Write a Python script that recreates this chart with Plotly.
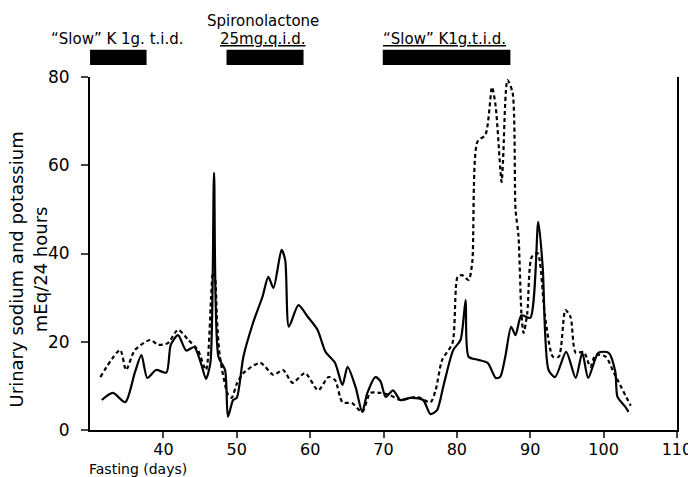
import plotly.graph_objects as go

# Solid line (sodium)
sodium_day = [31.6, 33.1, 34.8, 36.1, 37.0, 37.8, 39.0, 40.4, 41.0, 42.0, 43.1, 44.2, 45.1, 45.8,
              46.4, 46.9, 47.5, 48.4, 48.8, 49.5, 50.0, 50.9, 52.2, 53.5, 54.3, 55.0, 56.1, 56.6,
              57.1, 58.4, 59.7, 61.0, 62.1, 63.4, 64.4, 65.1, 66.2, 67.1, 67.8, 68.9, 69.6, 70.3,
              71.3, 72.3, 73.7, 75.4, 76.4, 77.3, 78.2, 79.5, 80.5, 81.2, 81.6, 82.9, 84.2, 85.3,
              85.9, 86.6, 87.4, 88.0, 88.8, 90.0, 91.1, 91.7, 92.5, 93.4, 94.9, 96.2, 97.1, 97.9,
              99.3, 100.7, 101.6, 101.9, 103.0, 103.4]
sodium_val = [6.8, 8.4, 6.3, 13.0, 17.0, 11.8, 13.6, 13.0, 19.3, 21.5, 18.0, 18.8, 15.2, 11.6,
              15.2, 58.3, 16.6, 13.6, 3.0, 6.8, 7.3, 16.6, 24.2, 30.2, 34.7, 32.2, 40.8, 38.5,
              23.4, 28.3, 25.6, 22.7, 17.7, 15.2, 10.2, 14.3, 9.7, 4.1, 8.4, 12.0, 11.0, 7.5,
              9.0, 6.8, 7.3, 6.8, 3.6, 4.5, 10.2, 18.1, 20.4, 29.5, 16.6, 15.9, 15.2, 11.8,
              12.0, 16.6, 23.4, 21.5, 26.0, 25.4, 47.2, 37.0, 13.6, 12.0, 17.7, 11.8, 17.5, 11.8,
              17.5, 17.5, 13.2, 7.5, 5.2, 4.1]

# Dashed line (potassium)
potassium_day = [31.4, 34.1, 34.9, 36.1, 38.2, 39.3, 40.6, 42.0, 43.4, 44.7, 45.8, 46.5, 46.75,
                 47.0, 47.3, 47.7, 48.8, 49.3, 50.0, 50.9, 53.2, 55.0, 56.3, 57.6, 59.3, 61.1,
                 62.5, 63.4, 64.4, 65.7, 67.1, 68.2, 69.6, 70.9, 72.3, 74.6, 76.4, 77.1, 78.0,
                 79.4, 80.1, 80.7, 81.6, 82.1, 82.8, 83.9, 84.8, 85.3, 86.1, 86.3, 86.9, 87.6,
                 88.0, 88.4, 88.8, 89.1, 89.6, 90.2, 91.0, 92.0, 93.1, 93.9, 94.8, 95.5, 96.2,
                 97.3, 98.2, 98.9, 100.3, 101.4, 103.7]
potassium_val = [12.0, 18.1, 13.6, 18.1, 20.4, 19.3, 19.7, 22.7, 20.4, 18.1, 13.6, 30.0, 35.6,
                 35.0, 25.0, 16.6, 8.0, 7.3, 10.5, 12.9, 15.2, 12.5, 13.6, 10.7, 12.9, 9.0,
                 12.0, 11.3, 6.3, 6.1, 4.1, 8.4, 8.4, 7.9, 6.8, 7.5, 6.3, 9.0, 15.9,
                 19.7, 34.7, 35.1, 34.0, 38.0, 65.3, 66.9, 77.7, 73.2, 56.2, 61.2, 79.3, 76.4,
                 50.0, 44.0, 26.5, 22.0, 26.5, 39.2, 40.1, 26.0, 16.6, 16.6, 27.2, 25.6, 17.5,
                 17.7, 14.3, 17.0, 16.6, 13.0, 5.5]

# Treatment periods (days)
treat_start = [30.0, 48.6, 69.9]
treat_end = [37.7, 59.1, 87.3]
treat_label = ["“Slow” K 1g. t.i.d.", "<u>25mg.q.i.d.</u>", "<u>“Slow” K1g.t.i.d.</u>"]
treat_label_x = [33.7, 53.6, 78.3]
drug_name = "Spironolactone"

x_ticks = [40, 50, 60, 70, 80, 90, 100, 110]
y_ticks = [0, 20, 40, 60, 80]

FONT = "DejaVu Sans"

fig = go.Figure()
fig.add_trace(go.Scatter(x=sodium_day, y=sodium_val, mode="lines",
                         line=dict(color="black", width=2.2, shape="spline", smoothing=0.7),
                         showlegend=False))
fig.add_trace(go.Scatter(x=potassium_day, y=potassium_val, mode="lines",
                         line=dict(color="black", width=2.2, dash="4px,3px", shape="spline", smoothing=0.7),
                         showlegend=False))

for s, e in zip(treat_start, treat_end):
    fig.add_shape(type="rect", xref="x", yref="paper", x0=s, x1=e, y0=1.034, y1=1.077,
                  fillcolor="black", line=dict(width=0))

for lab, lx in zip(treat_label, treat_label_x):
    fig.add_annotation(x=lx, xref="x", y=1.108, yref="paper", text=lab, showarrow=False,
                       xanchor="center", yanchor="middle", font=dict(family=FONT, size=15, color="black"))
fig.add_annotation(x=treat_label_x[1], xref="x", y=1.158, yref="paper", text=drug_name, showarrow=False,
                   xanchor="center", yanchor="middle", font=dict(family=FONT, size=15, color="black"))

fig.add_annotation(x=-0.105, xref="paper", y=0.456, yref="paper",
                   text="Urinary sodium and potassium<br>mEq/24 hours", textangle=-90,
                   showarrow=False, xanchor="center", yanchor="middle",
                   font=dict(family=FONT, size=18, color="black"))
fig.add_annotation(x=-0.005, xref="paper", y=-0.11, yref="paper", text="Fasting (days)",
                   showarrow=False, xanchor="left", yanchor="middle",
                   font=dict(family=FONT, size=14, color="black"))

fig.update_xaxes(range=[29.99, 110.01], tickvals=x_ticks, ticks="outside", ticklen=6, tickwidth=2,
                 showline=True, linecolor="black", linewidth=2, showgrid=False, zeroline=False,
                 ticklabeloverflow="allow", automargin=False, ticklabelstandoff=-2,
                 tickfont=dict(family=FONT, size=16, color="black"))
fig.update_yaxes(range=[0, 80], tickvals=y_ticks, ticks="outside", ticklen=7, tickwidth=2,
                 showline=True, linecolor="black", linewidth=2, mirror=True, showgrid=False,
                 zeroline=False, ticklabelstandoff=8, automargin=False,
                 tickfont=dict(family=FONT, size=17, color="black"))

fig.update_layout(width=688, height=477, margin=dict(l=90, r=11, t=77, b=47, autoexpand=False),
                  plot_bgcolor="white", paper_bgcolor="white")

fig.write_html("out.html")
